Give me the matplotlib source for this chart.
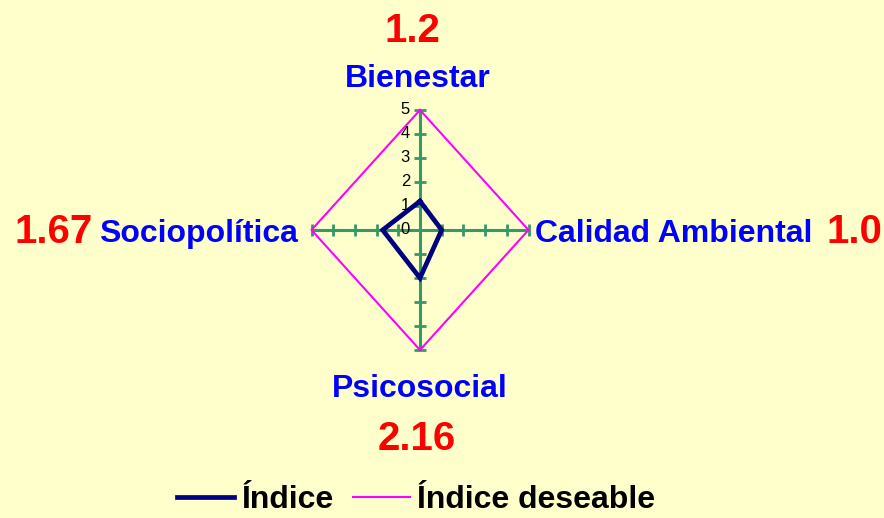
import numpy as np
import matplotlib
matplotlib.use("Agg")
import matplotlib.pyplot as plt
from matplotlib.transforms import offset_copy

# ---- data ----
categories = ["Bienestar", "Calidad Ambiental", "Psicosocial", "Sociopolítica"]
indice = [1.2, 1.0, 2.0, 1.72]
indice_deseable = [5, 5, 5, 5]
value_labels = ["1.2", "1.0", "2.16", "1.67"]
scale_ticks = [0, 1, 2, 3, 4, 5]
series_names = ["Índice", "Índice deseable"]

# ---- style ----
W, H, DPI = 884, 518, 100
BG = "#FFFFCC"
GREEN = "#339966"
NAVY = "#000080"
PINK = "#FF00FF"
BLUE = "#0000FF"
RED = "#FF0000"
FONT = "Liberation Sans"
plt.rcParams["font.family"] = [FONT, "DejaVu Sans"]

angles = np.deg2rad([90, 0, 270, 180])

fig = plt.figure(figsize=(W / DPI, H / DPI), dpi=DPI, facecolor=BG)
ax = fig.add_axes([0, 0, 1, 1])
ax.set_facecolor(BG)
cx, cy = 420, 230      # centre in pixels
ux, uy = 21.7, 24.0    # pixels per unit
ax.set_xlim(-cx / ux, (W - cx) / ux)
ax.set_ylim(-(H - cy) / uy, cy / uy)
ax.axis("off")


def closed_xy(vals):
    v = np.asarray(vals, float)
    x = v * np.cos(angles)
    y = v * np.sin(angles)
    return np.append(x, x[0]), np.append(y, y[0])


rmax = max(scale_ticks)
tick_vals = np.array([t for t in scale_ticks if t > 0], float)
for a in angles:
    ca, sa = np.cos(a), np.sin(a)
    ax.plot([0, rmax * ca], [0, rmax * sa], color=GREEN, lw=2.2, zorder=1,
            solid_capstyle="butt")
    horiz = abs(ca) > 0.5
    ax.plot(tick_vals * ca, tick_vals * sa, ls="none",
            marker="|" if horiz else "_", ms=8, mew=2.0, color=GREEN, zorder=1)

xd, yd = closed_xy(indice_deseable)
l2, = ax.plot(xd, yd, color=PINK, lw=1.5, zorder=2, label=series_names[1])
xi, yi = closed_xy(indice)
l1, = ax.plot(xi, yi, color=NAVY, lw=3.4, zorder=3, label=series_names[0],
              solid_joinstyle="miter")

# scale labels on the vertical axis
lab_tr = offset_copy(ax.transData, fig=fig, x=-10, y=0, units="dots")
for t in scale_ticks:
    ax.text(0, t, str(t), transform=lab_tr, ha="right", va="center",
            fontsize=12, color="black", zorder=4)


def px(x, y):
    return x / W, 1 - y / H


LAB = 23
VAL = 29
# category labels and value labels (pixel placement)
fig.text(*px(418, 87), categories[0], ha="center", va="baseline",
         fontsize=LAB, fontweight="bold", color=BLUE)
fig.text(*px(412, 42), value_labels[0], ha="center", va="baseline",
         fontsize=VAL, fontweight="bold", color=RED)

fig.text(*px(535, 242), categories[1], ha="left", va="baseline",
         fontsize=LAB, fontweight="bold", color=BLUE)
fig.text(*px(854, 243), value_labels[1], ha="center", va="baseline",
         fontsize=VAL, fontweight="bold", color=RED)

fig.text(*px(420, 397), categories[2], ha="center", va="baseline",
         fontsize=LAB, fontweight="bold", color=BLUE)
fig.text(*px(417, 450), value_labels[2], ha="center", va="baseline",
         fontsize=VAL, fontweight="bold", color=RED)

fig.text(*px(298, 242), categories[3], ha="right", va="baseline",
         fontsize=LAB, fontweight="bold", color=BLUE)
fig.text(*px(54, 243), value_labels[3], ha="center", va="baseline",
         fontsize=VAL, fontweight="bold", color=RED)

leg = fig.legend(handles=[l1, l2], labels=series_names, loc="center",
                 bbox_to_anchor=px(416, 500), ncol=2, frameon=False,
                 prop={"family": FONT, "weight": "bold", "size": LAB},
                 handlelength=1.8, handletextpad=0.22, columnspacing=0.6,
                 borderaxespad=0, borderpad=0)

fig.savefig("out.png", dpi=DPI, facecolor=BG)
